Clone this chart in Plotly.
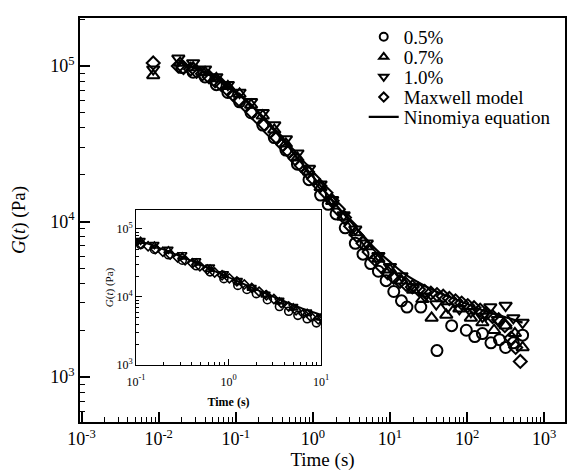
import plotly.graph_objects as go

# ---------------- data ----------------
# 0.5 % (circles)
t_05 = [0.020, 0.028, 0.040, 0.056, 0.079, 0.112, 0.158, 0.224, 0.316, 0.447, 0.631, 0.891,
        1.26, 1.58, 2.0, 2.63, 3.55, 4.47, 5.62, 7.08, 8.91, 11.2, 14.1, 16.6, 25.1, 40.7,
        63.1, 97.7, 126, 158, 204, 263, 316, 398, 525]
g_05 = [97700, 91200, 85100, 75900, 67600, 58900, 50100, 41700, 34700, 28800, 23400, 18600,
        14800, 12900, 11200, 9120, 7240, 6170, 5370, 4790, 4170, 3550, 3090, 2820, 2820, 1480,
        2140, 2000, 1820, 1905, 1660, 1740, 1550, 1660, 1860]

# 0.7 % (up triangles)
t_07 = [0.0085, 0.019, 0.028, 0.040, 0.056, 0.079, 0.112, 0.158, 0.224, 0.316, 0.447, 0.631,
        0.891, 1.26, 1.78, 2.51, 3.55, 5.01, 7.08, 10.0, 14.1, 20.0, 26.3, 34.7, 53.7, 79.4,
        112, 158, 224, 316, 417, 525]
g_07 = [87100, 104700, 97700, 91200, 83200, 74100, 66100, 56200, 47900, 38900, 31600, 25700,
        20900, 16600, 13500, 10700, 8510, 6920, 5750, 4900, 4170, 3630, 3160, 2400, 2510, 2750,
        2400, 2240, 2000, 2140, 1910, 1550]

# 1.0 % (down triangles)
t_10 = [0.0085, 0.018, 0.028, 0.040, 0.056, 0.079, 0.112, 0.158, 0.224, 0.316, 0.447, 0.631,
        0.891, 1.26, 1.78, 2.51, 3.55, 5.01, 7.08, 10.0, 14.1, 20.0, 28.2, 39.8, 56.2, 79.4,
        112, 158, 200, 251, 316, 398, 525]
g_10 = [95500, 112200, 104700, 95500, 85100, 75900, 67600, 58900, 50100, 41700, 33900, 27500,
        21900, 17400, 13800, 11000, 8910, 7240, 6030, 5130, 4470, 3800, 3310, 2950, 2820, 2750,
        2630, 2450, 2820, 2340, 2880, 2400, 2240]

# Maxwell model (diamonds)
t_mx = [0.0085, 0.018, 0.021, 0.026, 0.031, 0.037, 0.045, 0.054, 0.065, 0.078, 0.093, 0.112,
        0.135, 0.162, 0.195, 0.234, 0.282, 0.339, 0.407, 0.490, 0.589, 0.708, 0.851, 1.02,
        1.23, 1.48, 1.78, 2.14, 2.57, 3.09, 3.72, 4.47, 5.37, 6.46, 7.76, 9.33, 11.2, 13.5,
        16.2, 19.5, 23.4, 28.2, 33.9, 40.7, 49.0, 58.9, 70.8, 85.1, 102, 123, 148, 178, 214,
        257, 309, 372, 427, 490]
g_mx = [104700, 100000, 97700, 95500, 92300, 89100, 85100, 80400, 75900, 70800, 65300, 60300,
        55600, 50700, 46200, 42200, 38000, 34700, 31300, 28200, 25400, 22900, 20900, 18800,
        17000, 15300, 13600, 12000, 10600, 9330, 8130, 7240, 6380, 5690, 5130, 4680, 4370, 4120,
        3940, 3800, 3670, 3550, 3470, 3390, 3310, 3200, 3090, 2990, 2880, 2790, 2690, 2570, 2450,
        2340, 2140, 1780, 1550, 1260]

# Ninomiya equation (solid line)
t_nm = [0.018, 0.025, 0.04, 0.063, 0.1, 0.158, 0.25, 0.4, 0.63, 1.0, 1.58, 2.51, 3.98, 6.31,
        10, 15.8, 25.1, 39.8, 63.1, 100, 158, 251, 398, 525]
g_nm = [107000, 100000, 91200, 81300, 67600, 56200, 43700, 33900, 25700, 19500, 14800, 11200,
        8710, 6760, 5500, 4570, 3980, 3550, 3240, 2950, 2690, 2510, 2340, 2240]

series_names = ["0.5%", "0.7%", "1.0%", "Maxwell model", "Ninomiya equation"]

main_x_ticks = [1e-3, 1e-2, 1e-1, 1e0, 1e1, 1e2, 1e3]
main_x_text = ["10<sup>-3</sup>", "10<sup>-2</sup>", "10<sup>-1</sup>", "10<sup>0</sup>",
               "10<sup>1</sup>", "10<sup>2</sup>", "10<sup>3</sup>"]
main_y_ticks = [1e3, 1e4, 1e5]
main_y_text = ["10<sup>3</sup>", "10<sup>4</sup>", "10<sup>5</sup>"]
inset_x_ticks = [0.1, 1, 10]
inset_x_text = ["10<sup>-1</sup>", "10<sup>0</sup>", "10<sup>1</sup>"]
inset_y_ticks = [1e3, 1e4, 1e5]
inset_y_text = ["10<sup>3</sup>", "10<sup>4</sup>", "10<sup>5</sup>"]

# ---------------- figure ----------------
FONT = "Liberation Serif"
BLACK = "black"

def minor_vals(e0, e1):
    return [k * 10 ** e for e in range(e0, e1) for k in range(2, 10)]

fig = go.Figure()

marker_specs = [
    (t_05, g_05, "circle-open", 11, "legend", 8),
    (t_07, g_07, "triangle-up-open", 11, "legend2", 8),
    (t_10, g_10, "triangle-down-open", 11, "legend3", 8),
    (t_mx, g_mx, "diamond-open", 10, "legend4", 7),
]
for (tx, gy, sym, sz, lg, lsz), name in zip(marker_specs, series_names[:4]):
    fig.add_trace(go.Scatter(x=tx, y=gy, mode="markers", name=name, showlegend=False,
                             marker=dict(symbol=sym, size=sz, color=BLACK,
                                         line=dict(width=2, color=BLACK))))
    # legend entry with the smaller symbol used in the reference key
    fig.add_trace(go.Scatter(x=[None], y=[None], mode="markers", name=name, legend=lg,
                             marker=dict(symbol=sym, size=lsz, color=BLACK,
                                         line=dict(width=2, color=BLACK))))
fig.add_trace(go.Scatter(x=t_nm, y=g_nm, mode="lines", name=series_names[4], legend="legend5",
                         line=dict(color=BLACK, width=2.2, shape="spline")))

# inset
inset_specs = [
    (t_05, g_05, "circle-open", 8),
    (t_07, g_07, "triangle-up-open", 8),
    (t_10, g_10, "triangle-down-open", 8),
    (t_mx, g_mx, "diamond-open", 7),
]
for tx, gy, sym, sz in inset_specs:
    fig.add_trace(go.Scatter(x=tx, y=gy, mode="markers", showlegend=False,
                             xaxis="x2", yaxis="y2",
                             marker=dict(symbol=sym, size=sz, color=BLACK,
                                         line=dict(width=1.6, color=BLACK))))
fig.add_trace(go.Scatter(x=t_nm, y=g_nm, mode="lines", showlegend=False, xaxis="x2", yaxis="y2",
                         line=dict(color=BLACK, width=1.8, shape="spline")))

axis_common = dict(type="log", showgrid=False, zeroline=False, showline=True, linecolor=BLACK,
                   mirror=True, ticks="inside", tickcolor=BLACK, tickmode="array")

fig.update_layout(
    width=574, height=473,
    margin=dict(l=80, r=1, t=18, b=51),
    paper_bgcolor="white", plot_bgcolor="white",
    font=dict(family=FONT, color=BLACK, size=19),
    xaxis=dict(**axis_common, range=[-3.02, 3.27], domain=[0, 1], anchor="y",
               tickvals=main_x_ticks, ticktext=main_x_text, ticklen=10, tickwidth=1.5,
               linewidth=1.5, tickfont=dict(size=18),
               minor=dict(tickvals=minor_vals(-3, 3), ticks="inside", ticklen=5,
                          tickwidth=1, tickcolor=BLACK, showgrid=False),
               title=dict(text="Time (s)", font=dict(size=19), standoff=2)),
    yaxis=dict(**axis_common, range=[2.711, 5.309], domain=[0, 1], anchor="x",
               tickvals=main_y_ticks, ticktext=main_y_text, ticklen=10, tickwidth=1.5,
               linewidth=1.5, tickfont=dict(size=18),
               minor=dict(tickvals=minor_vals(2, 6), ticks="inside", ticklen=5,
                          tickwidth=1, tickcolor=BLACK, showgrid=False),
               title=dict(text="<i>G</i>(<i>t</i>) (Pa)", font=dict(size=19), standoff=20)),
    xaxis2=dict(**axis_common, range=[-1, 1], domain=[0.1156, 0.497], anchor="y2",
                tickvals=inset_x_ticks, ticktext=inset_x_text, ticklen=6, tickwidth=1,
                linewidth=1.2, tickfont=dict(size=12),
                minor=dict(tickvals=minor_vals(-1, 1), ticks="inside", ticklen=3,
                           tickwidth=1, tickcolor=BLACK, showgrid=False),
                ticklabelstandoff=5,
                title=dict(text="<b>Time (s)</b>", font=dict(size=12), standoff=10)),
    yaxis2=dict(**axis_common, range=[3, 5.28], domain=[0.141, 0.525], anchor="x2",
                tickvals=inset_y_ticks, ticktext=inset_y_text, ticklen=6, tickwidth=1,
                linewidth=1.2, tickfont=dict(size=12),
                minor=dict(tickvals=minor_vals(3, 6), ticks="inside", ticklen=3,
                           tickwidth=1, tickcolor=BLACK, showgrid=False),
                title=dict(text="<i>G</i>(<i>t</i>) (Pa)", font=dict(size=11), standoff=0)),
)

legend_rows = [0.953, 0.9035, 0.854, 0.804, 0.755]
for i, yy in enumerate(legend_rows):
    key = "legend" if i == 0 else f"legend{i + 1}"
    fig.update_layout({key: dict(x=0.585, y=yy, xanchor="left", yanchor="middle",
                                 bgcolor="rgba(0,0,0,0)", borderwidth=0,
                                 font=dict(family=FONT, size=19, color=BLACK),
                                 itemwidth=30)})

fig.write_html("out.html")
